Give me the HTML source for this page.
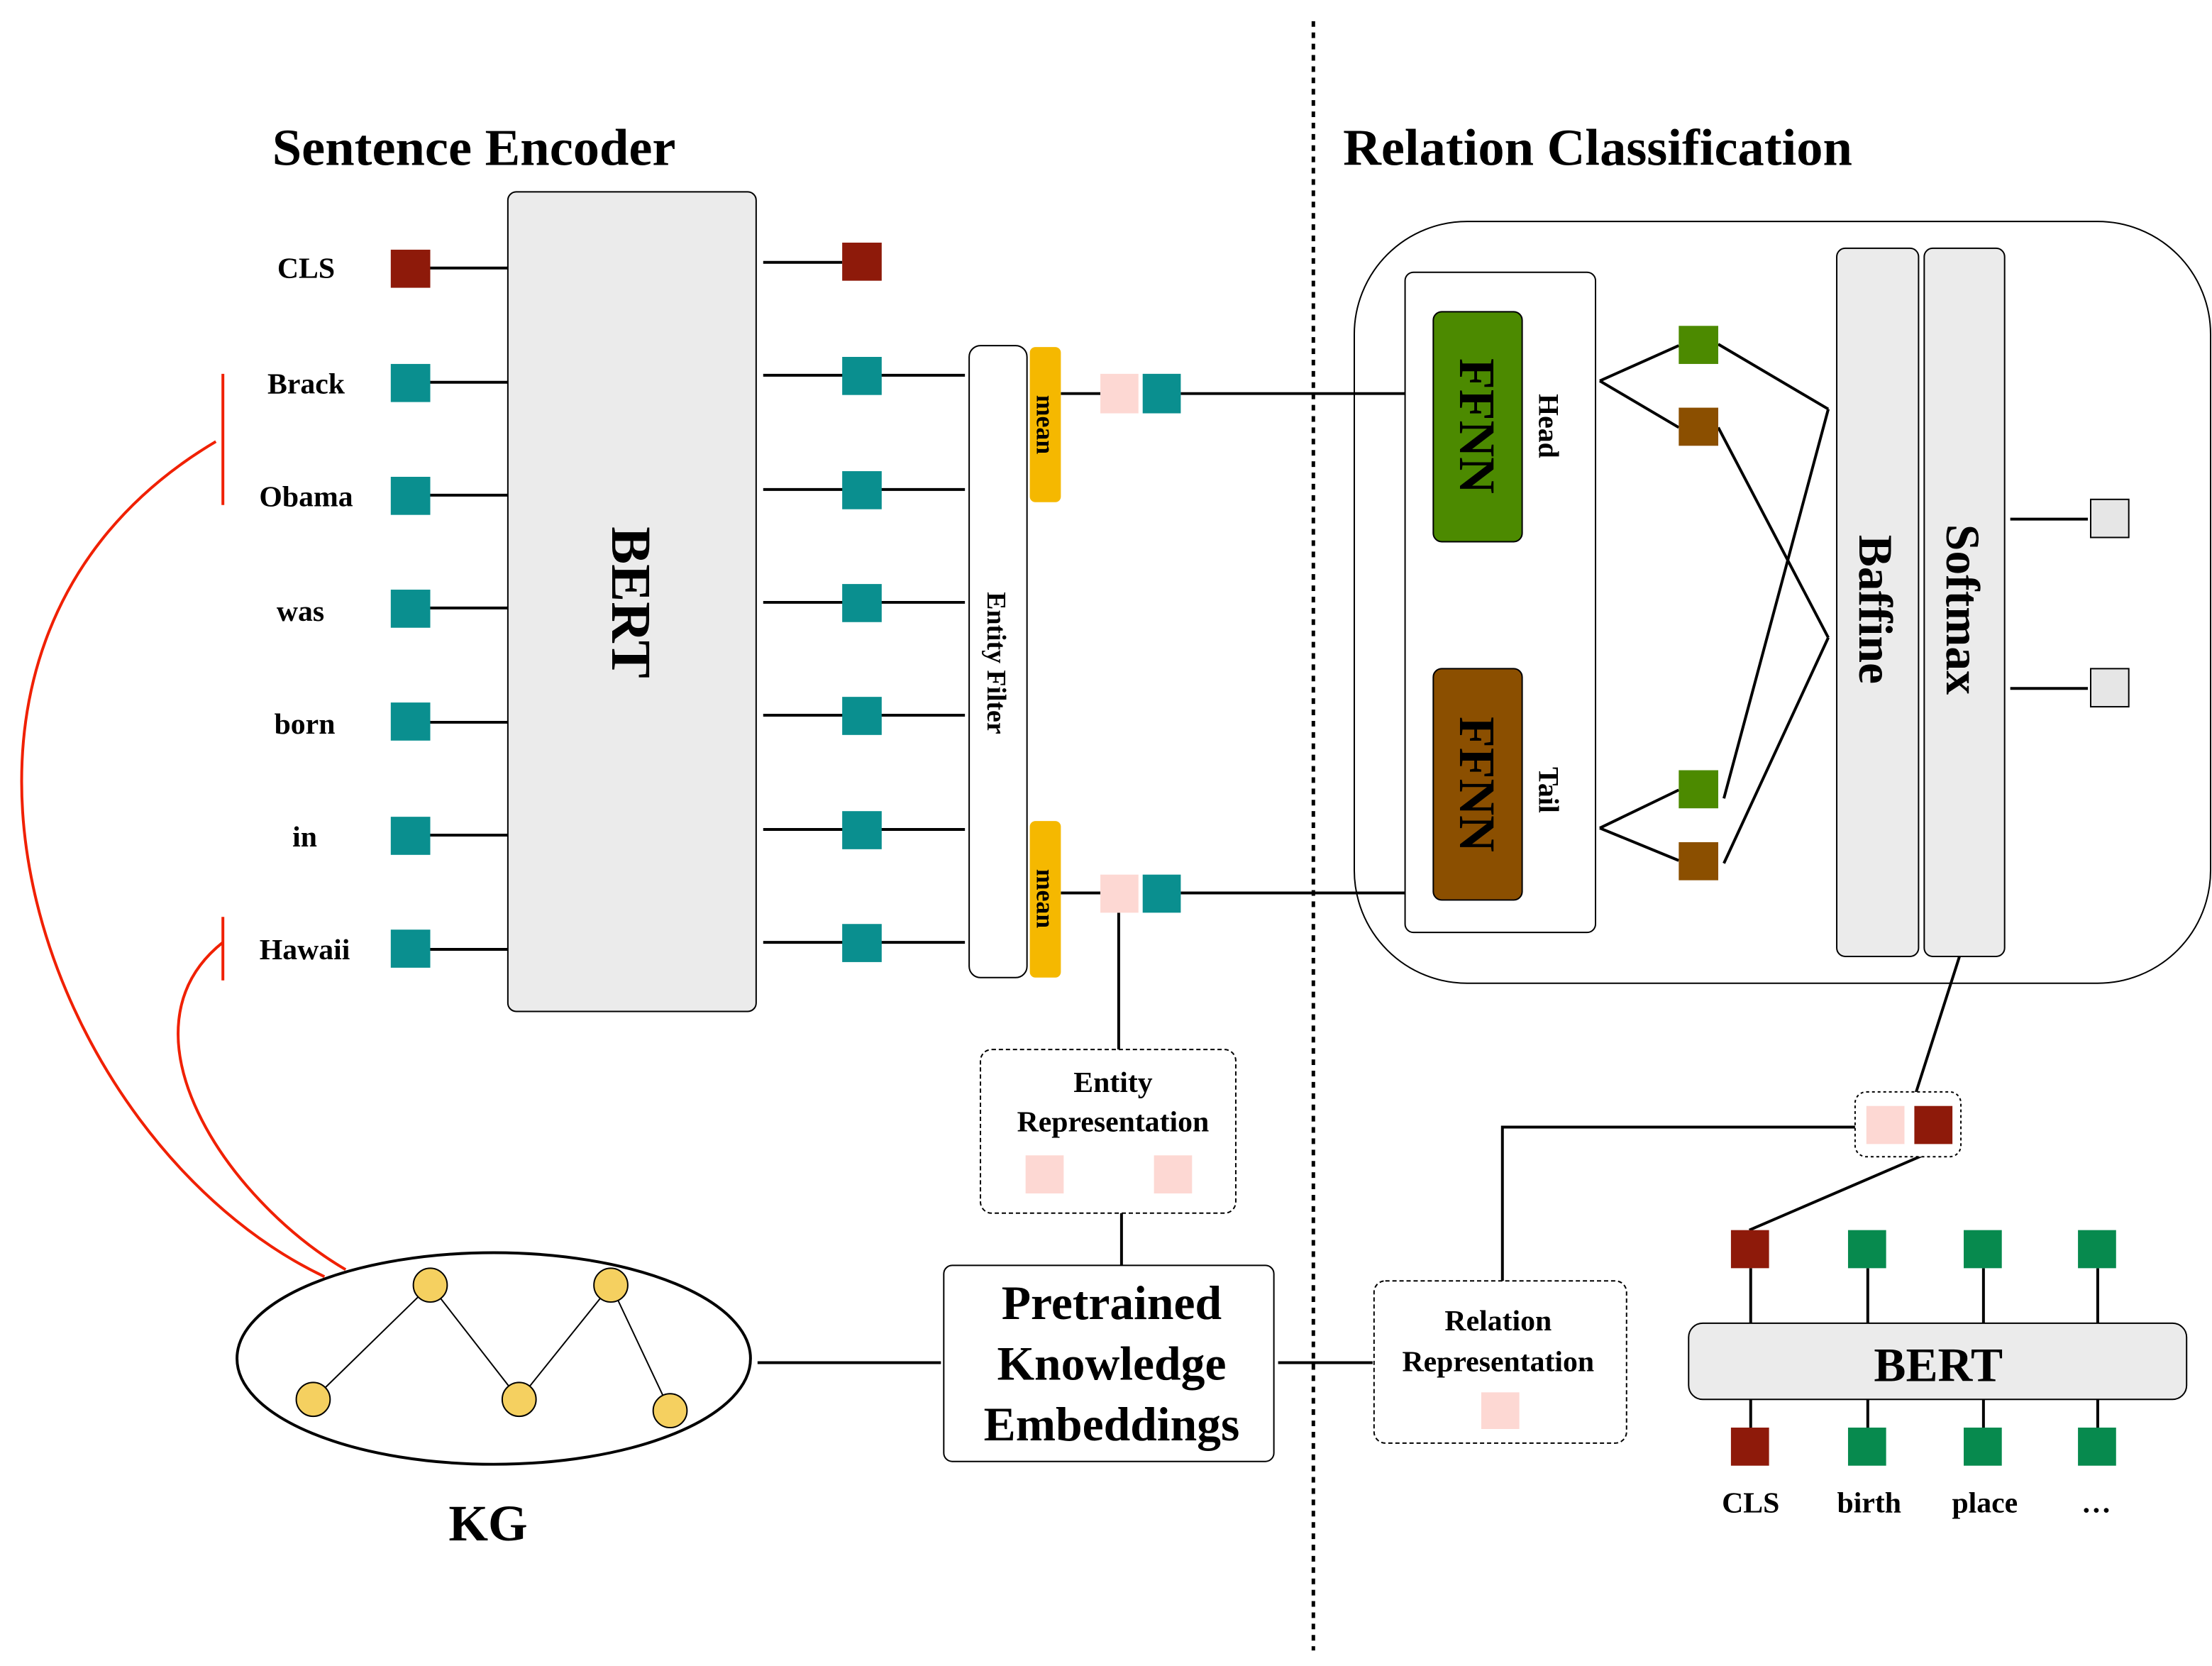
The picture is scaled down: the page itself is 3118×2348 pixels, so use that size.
<!DOCTYPE html>
<html><head><meta charset="utf-8"><style>
html,body{margin:0;padding:0;background:#fff;}
svg{display:block;}
text{font-family:"Liberation Serif",serif;font-weight:bold;fill:#000;}
</style></head><body>
<svg width="3118" height="2348" viewBox="0 0 1568 1181" preserveAspectRatio="none" xmlns="http://www.w3.org/2000/svg">
<rect width="1568" height="1181" fill="#fff"/>
<line x1="931" y1="15" x2="931" y2="1170" stroke="#000" stroke-width="2.5" stroke-dasharray="4,4"/>
<text x="193" y="117" font-size="37" textLength="286" lengthAdjust="spacingAndGlyphs">Sentence Encoder</text>
<text x="952" y="117" font-size="37" textLength="361" lengthAdjust="spacingAndGlyphs">Relation Classification</text>

<g font-size="21" text-anchor="middle">
<text x="217" y="197">CLS</text><text x="217" y="279">Brack</text><text x="217" y="359">Obama</text>
<text x="213" y="440">was</text><text x="216" y="520">born</text><text x="216" y="600">in</text><text x="216" y="680">Hawaii</text>
</g>
<g stroke="#000" stroke-width="2">
<line x1="305" y1="190" x2="360" y2="190"/><line x1="305" y1="271" x2="360" y2="271"/><line x1="305" y1="351" x2="360" y2="351"/>
<line x1="305" y1="431" x2="360" y2="431"/><line x1="305" y1="512" x2="360" y2="512"/><line x1="305" y1="592" x2="360" y2="592"/><line x1="305" y1="673" x2="360" y2="673"/>
<line x1="541" y1="186" x2="597" y2="186"/>
<line x1="541" y1="266" x2="684" y2="266"/><line x1="541" y1="347" x2="684" y2="347"/><line x1="541" y1="427" x2="684" y2="427"/>
<line x1="541" y1="507" x2="684" y2="507"/><line x1="541" y1="588" x2="684" y2="588"/><line x1="541" y1="668" x2="684" y2="668"/>
<line x1="752" y1="279" x2="780" y2="279"/><line x1="837" y1="279" x2="996" y2="279"/>
<line x1="752" y1="633" x2="780" y2="633"/><line x1="837" y1="633" x2="996" y2="633"/>
<line x1="793" y1="647" x2="793" y2="744"/><line x1="795" y1="860" x2="795" y2="897"/>
<line x1="537" y1="966" x2="667" y2="966"/><line x1="906" y1="966" x2="973" y2="966"/>
<polyline points="1065,908 1065,799 1315,799" fill="none"/>
<line x1="1389" y1="678" x2="1358" y2="775"/><line x1="1370" y1="816" x2="1240" y2="872"/>
<line x1="1134" y1="270" x2="1190" y2="245"/><line x1="1134" y1="270" x2="1190" y2="303"/>
<line x1="1134" y1="587" x2="1190" y2="560"/><line x1="1134" y1="587" x2="1190" y2="610"/>
<line x1="1218" y1="244" x2="1296" y2="290"/><line x1="1218" y1="303" x2="1296" y2="452"/>
<line x1="1222" y1="566" x2="1296" y2="290"/><line x1="1222" y1="612" x2="1296" y2="452"/>
<line x1="1425" y1="368" x2="1480" y2="368"/><line x1="1425" y1="488" x2="1480" y2="488"/>
<line x1="1241" y1="899" x2="1241" y2="938"/><line x1="1324" y1="899" x2="1324" y2="938"/><line x1="1406" y1="899" x2="1406" y2="938"/><line x1="1487" y1="899" x2="1487" y2="938"/>
<line x1="1241" y1="992" x2="1241" y2="1012"/><line x1="1324" y1="992" x2="1324" y2="1012"/><line x1="1406" y1="992" x2="1406" y2="1012"/><line x1="1487" y1="992" x2="1487" y2="1012"/>
</g>

<rect x="277" y="177" width="28" height="27" fill="#8e1a0a"/>
<g fill="#0a8f8f">
<rect x="277" y="258" width="28" height="27"/><rect x="277" y="338" width="28" height="27"/><rect x="277" y="418" width="28" height="27"/>
<rect x="277" y="498" width="28" height="27"/><rect x="277" y="579" width="28" height="27"/><rect x="277" y="659" width="28" height="27"/>
<rect x="597" y="253" width="28" height="27"/><rect x="597" y="334" width="28" height="27"/><rect x="597" y="414" width="28" height="27"/>
<rect x="597" y="494" width="28" height="27"/><rect x="597" y="575" width="28" height="27"/><rect x="597" y="655" width="28" height="27"/>
<rect x="810" y="265" width="27" height="28"/><rect x="810" y="620" width="27" height="27"/>
</g>
<rect x="597" y="172" width="28" height="27" fill="#8e1a0a"/>

<rect x="360" y="136" width="176" height="581" rx="6" fill="#ebebeb" stroke="#000" stroke-width="1"/>
<text transform="translate(434,427) rotate(90)" font-size="40" text-anchor="middle">BERT</text>

<rect x="687" y="245" width="41" height="448" rx="8" fill="#fff" stroke="#000" stroke-width="1"/>
<text transform="translate(700,470) rotate(90)" font-size="19" text-anchor="middle" font-weight="normal">Entity Filter</text>
<rect x="730" y="246" width="22" height="110" rx="4" fill="#f5b800"/>
<rect x="730" y="582" width="22" height="111" rx="4" fill="#f5b800"/>
<text transform="translate(735,301) rotate(90)" font-size="18" text-anchor="middle">mean</text>
<text transform="translate(735,637) rotate(90)" font-size="18" text-anchor="middle">mean</text>
<rect x="780" y="265" width="27" height="28" fill="#fdd8d3"/>
<rect x="780" y="620" width="27" height="27" fill="#fdd8d3"/>

<rect x="695" y="744" width="181" height="116" rx="8" fill="#fff" stroke="#000" stroke-width="1" stroke-dasharray="3,2"/>
<text x="789" y="774" font-size="21" text-anchor="middle">Entity</text>
<text x="789" y="802" font-size="21" text-anchor="middle">Representation</text>
<rect x="727" y="819" width="27" height="27" fill="#fdd8d3"/><rect x="818" y="819" width="27" height="27" fill="#fdd8d3"/>

<rect x="669" y="897" width="234" height="139" rx="6" fill="#fff" stroke="#000" stroke-width="1"/>
<g font-size="34" text-anchor="middle"><text x="788" y="935">Pretrained</text><text x="788" y="978">Knowledge</text><text x="788" y="1021">Embeddings</text></g>

<ellipse cx="350" cy="963" rx="182" ry="75" fill="#fff" stroke="#000" stroke-width="2"/>
<polyline points="222,992 305,911 368,992 433,911 475,1000" fill="none" stroke="#000" stroke-width="1"/>
<g fill="#f5d060" stroke="#000" stroke-width="1">
<circle cx="222" cy="992" r="12"/><circle cx="305" cy="911" r="12"/><circle cx="368" cy="992" r="12"/><circle cx="433" cy="911" r="12"/><circle cx="475" cy="1000" r="12"/>
</g>
<text x="346" y="1092" font-size="36" text-anchor="middle">KG</text>

<g stroke="#f02000" stroke-width="2" fill="none">
<path d="M230,905 C30,810 -95,460 153,313"/>
<path d="M245,900 C160,850 80,730 158,668"/>
<line x1="158" y1="265" x2="158" y2="358"/><line x1="158" y1="650" x2="158" y2="695"/>
</g>

<rect x="974" y="908" width="179" height="115" rx="8" fill="#fff" stroke="#000" stroke-width="1" stroke-dasharray="3,2"/>
<text x="1062" y="943" font-size="21" text-anchor="middle">Relation</text>
<text x="1062" y="972" font-size="21" text-anchor="middle">Representation</text>
<rect x="1050" y="987" width="27" height="26" fill="#fdd8d3"/>

<rect x="1315" y="774" width="75" height="46" rx="8" fill="#fff" stroke="#000" stroke-width="1" stroke-dasharray="2,2"/>
<rect x="1323" y="784" width="27" height="27" fill="#fdd8d3"/><rect x="1357" y="784" width="27" height="27" fill="#8e1a0a"/>

<rect x="1197" y="938" width="353" height="54" rx="10" fill="#ebebeb" stroke="#000" stroke-width="1"/>
<text x="1374" y="979" font-size="34" text-anchor="middle">BERT</text>
<rect x="1227" y="872" width="27" height="27" fill="#8e1a0a"/><rect x="1227" y="1012" width="27" height="27" fill="#8e1a0a"/>
<g fill="#078a4e">
<rect x="1310" y="872" width="27" height="27"/><rect x="1392" y="872" width="27" height="27"/><rect x="1473" y="872" width="27" height="27"/>
<rect x="1310" y="1012" width="27" height="27"/><rect x="1392" y="1012" width="27" height="27"/><rect x="1473" y="1012" width="27" height="27"/>
</g>
<g font-size="21" text-anchor="middle"><text x="1241" y="1072">CLS</text><text x="1325" y="1072">birth</text><text x="1407" y="1072">place</text><text x="1486" y="1072">…</text></g>

<rect x="960" y="157" width="607" height="540" rx="80" fill="none" stroke="#000" stroke-width="1"/>
<rect x="996" y="193" width="135" height="468" rx="6" fill="#fff" stroke="#000" stroke-width="1"/>
<rect x="1016" y="221" width="63" height="163" rx="6" fill="#4c8a00" stroke="#000" stroke-width="1"/>
<rect x="1016" y="474" width="63" height="164" rx="6" fill="#8b4f00" stroke="#000" stroke-width="1"/>
<text transform="translate(1035,302) rotate(90)" font-size="36" text-anchor="middle">FFNN</text>
<text transform="translate(1035,556) rotate(90)" font-size="36" text-anchor="middle">FFNN</text>
<text transform="translate(1091,302) rotate(90)" font-size="20" text-anchor="middle">Head</text>
<text transform="translate(1091,560) rotate(90)" font-size="20" text-anchor="middle">Tail</text>
<rect x="1190" y="231" width="28" height="27" fill="#4c8a00"/><rect x="1190" y="289" width="28" height="27" fill="#8b4f00"/>
<rect x="1190" y="546" width="28" height="27" fill="#4c8a00"/><rect x="1190" y="597" width="28" height="27" fill="#8b4f00"/>

<rect x="1302" y="176" width="58" height="502" rx="6" fill="#ebebeb" stroke="#000" stroke-width="1"/>
<rect x="1364" y="176" width="57" height="502" rx="6" fill="#ebebeb" stroke="#000" stroke-width="1"/>
<text transform="translate(1318,432) rotate(90)" font-size="34" text-anchor="middle">Baffine</text>
<text transform="translate(1380,432) rotate(90)" font-size="34" text-anchor="middle">Softmax</text>
<rect x="1482" y="354" width="27" height="27" fill="#e6e6e6" stroke="#000" stroke-width="1"/>
<rect x="1482" y="474" width="27" height="27" fill="#e6e6e6" stroke="#000" stroke-width="1"/>
</svg>
</body></html>
